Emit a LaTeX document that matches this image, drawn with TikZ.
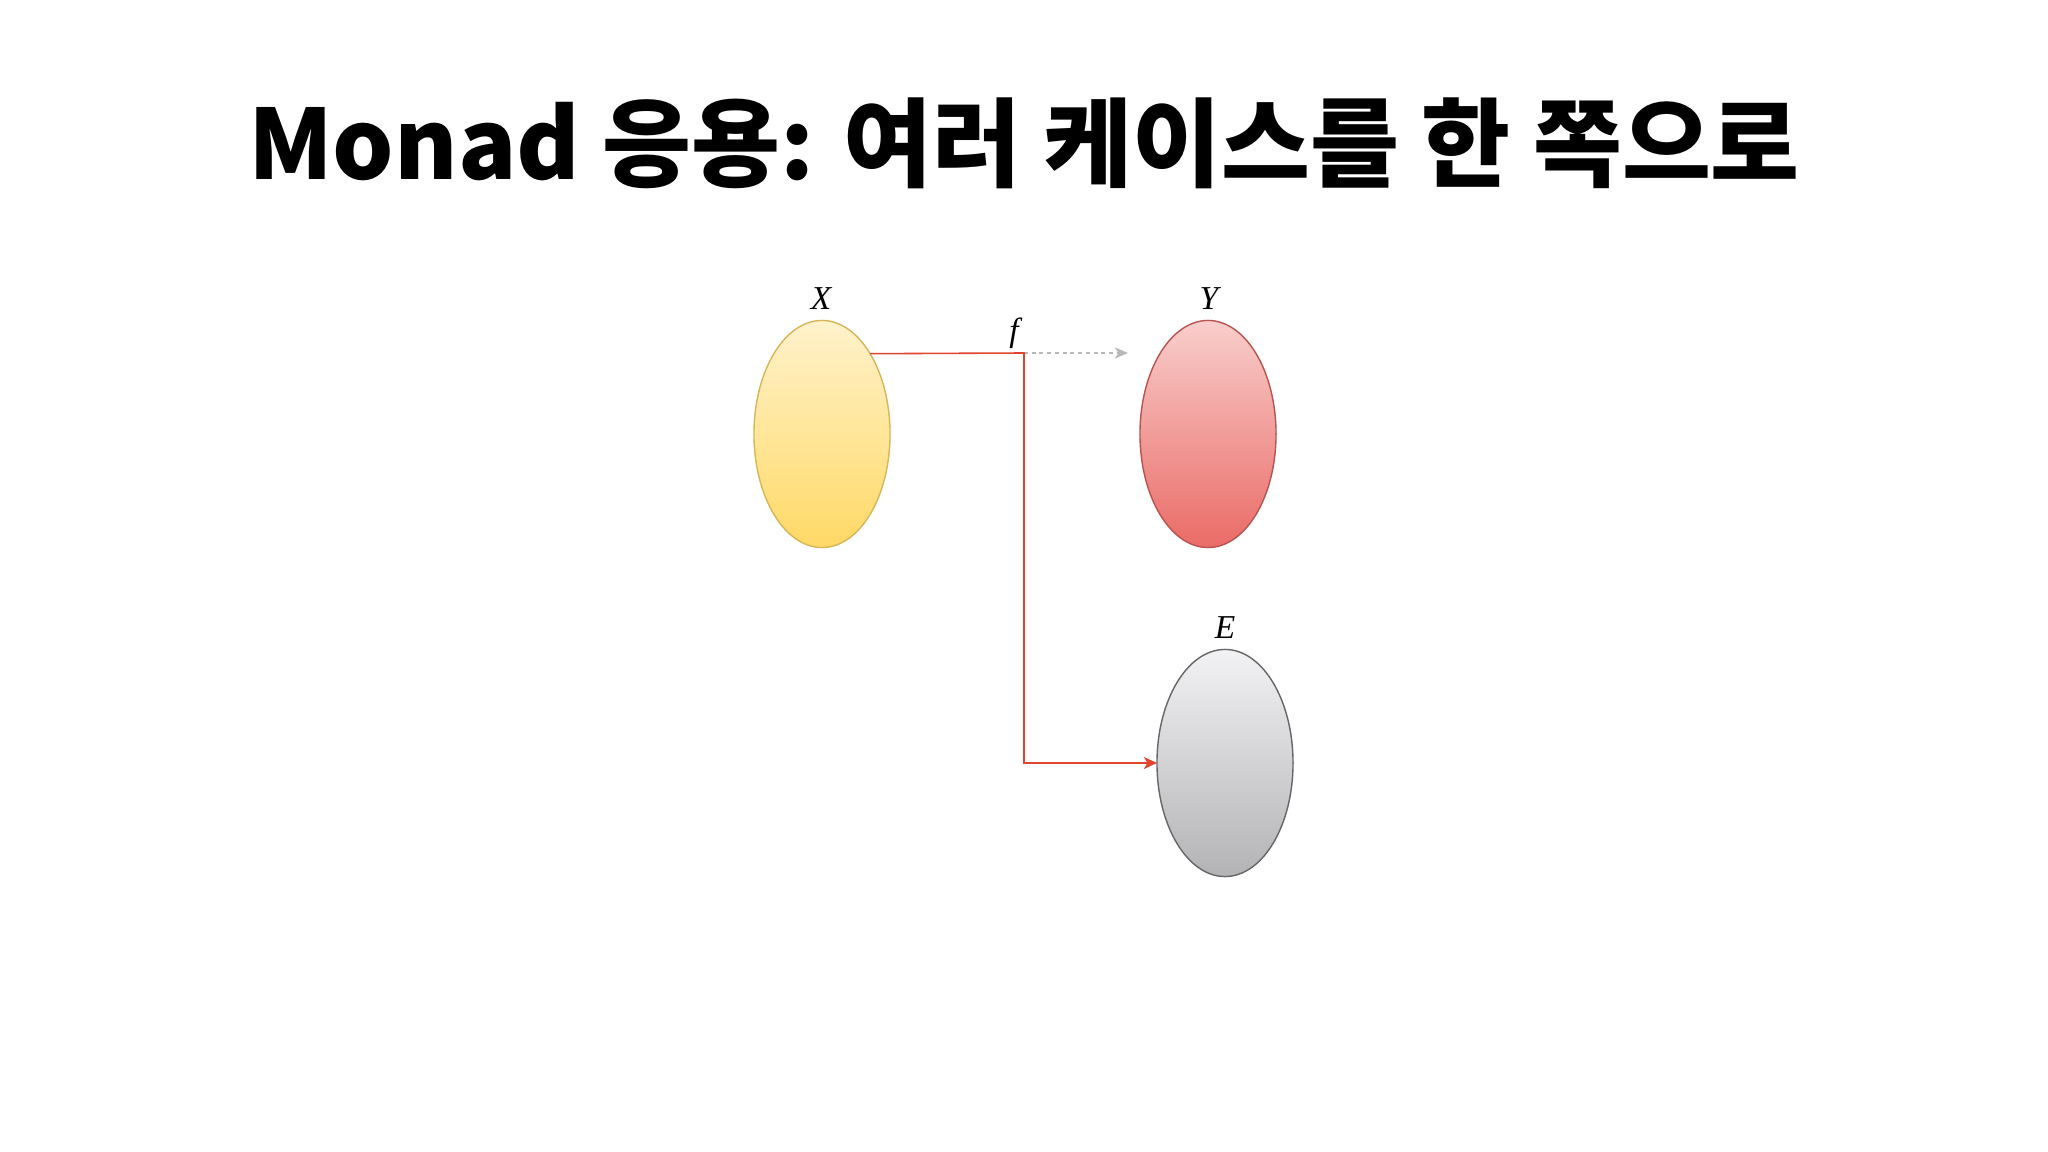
\documentclass[tikz,border=0pt]{standalone}
\usepackage{fontspec}
\newfontfamily\titlefont{Noto Sans CJK KR Black}
\newfontfamily\labelfont{Liberation Serif}
\usetikzlibrary{shapes.geometric,arrows.meta}
\definecolor{yelA}{HTML}{FFF2CC}
\definecolor{yelB}{HTML}{FFD966}
\definecolor{yelS}{HTML}{D6B656}
\definecolor{redA}{HTML}{F8CECC}
\definecolor{redB}{HTML}{EA6B66}
\definecolor{redS}{HTML}{B85450}
\definecolor{gryA}{HTML}{F2F2F4}
\definecolor{gryB}{HTML}{B3B3B6}
\definecolor{gryS}{HTML}{666666}
\definecolor{lineRed}{HTML}{E2452F}
\definecolor{dotGray}{HTML}{B8B8B8}
\tikzset{
  setnode/.style={ellipse, inner sep=0pt, outer sep=0pt, minimum width=1.36cm, minimum height=2.27cm, line width=0.4pt},
  yelset/.style={setnode, draw=yelS, top color=yelA, bottom color=yelB},
  redset/.style={setnode, draw=redS, top color=redA, bottom color=redB},
  gryset/.style={setnode, draw=gryS, top color=gryA, bottom color=gryB},
  setlabel/.style={font=\labelfont\itshape\fontsize{9.5}{11}\selectfont, inner sep=0pt},
  mapline/.style={draw=lineRed, line width=0.45pt, -{Stealth[length=1.3mm,width=1.2mm,inset=0.35mm]}},
  dotline/.style={draw=dotGray, line width=0.7pt, dash pattern=on 1.1pt off 1.1pt, -{Stealth[length=1.3mm,width=1.1mm,inset=0.35mm]}},
}
\begin{document}
\begin{tikzpicture}[x=0.01cm,y=-0.01cm]
\useasboundingbox[fill=white] (0,0) rectangle (2048,1152);
\node[anchor=base, font=\titlefont\fontsize{27.5}{30}\selectfont, inner sep=0pt] (title) at (1024,180) {Monad 응용: 여러 케이스를 한 쪽으로};
\node[yelset] (X) at (822,434) {};
\node[redset] (Y) at (1208,434) {};
\node[gryset] (E) at (1225,763) {};
\node[setlabel] (Xl) at (821,299) {X};
\node[setlabel] (Yl) at (1209,299) {Y};
\node[setlabel] (El) at (1225,628) {E};
\node[setlabel] (fl) at (1014,333) {f};
\coordinate (c1) at (1024,353);
\coordinate (c2) at (1024,763);
\coordinate (gy) at (1128,353);
\draw[dotline] (c1) -- (gy);
\draw[mapline] (X.north east) -- (c1) -- (c2) -- (E.west);
\end{tikzpicture}
\end{document}
